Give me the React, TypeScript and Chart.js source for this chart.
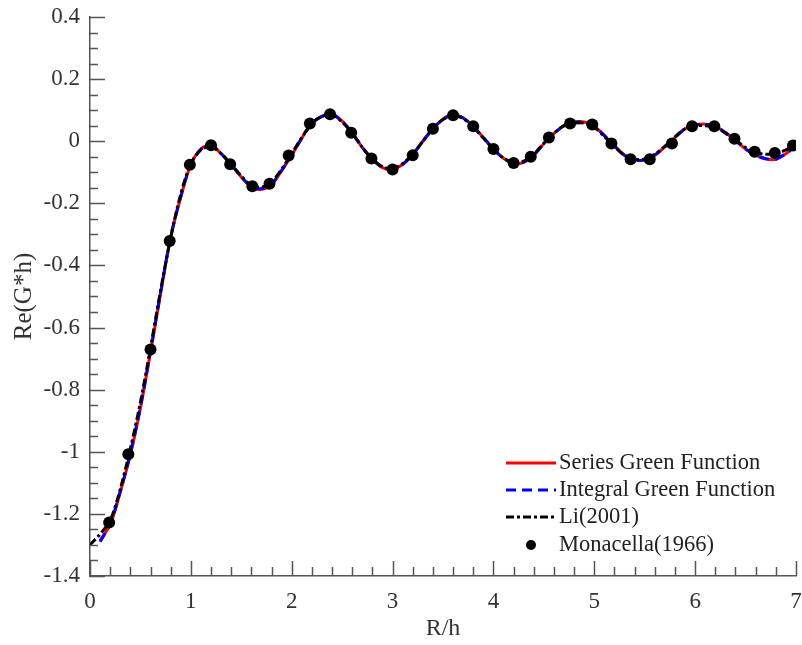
import React, { useEffect, useRef } from "react";
import { Chart, registerables } from "chart.js";

Chart.register(...registerables);

// Series Green Function (red solid)
const seriesX = [0.1,0.2,0.3,0.4,0.5,0.6,0.7,0.8,0.9,1.0,1.1,1.2,1.3,1.4,1.5,1.6,1.7,1.8,1.9,2.0,2.1,2.2,2.3,2.4,2.5,2.6,2.7,2.8,2.9,3.0,3.1,3.2,3.3,3.4,3.5,3.6,3.7,3.8,3.9,4.0,4.1,4.2,4.3,4.4,4.5,4.6,4.7,4.8,4.9,5.0,5.1,5.2,5.3,5.4,5.5,5.6,5.7,5.8,5.9,6.0,6.1,6.2,6.3,6.4,6.5,6.6,6.7,6.8,6.9,7.0];
const seriesY = [-1.285,-1.235,-1.13,-1.01,-0.86,-0.68,-0.49,-0.31,-0.18,-0.075,-0.025,-0.012,-0.04,-0.075,-0.115,-0.148,-0.155,-0.14,-0.095,-0.045,0.01,0.058,0.08,0.087,0.065,0.027,-0.02,-0.058,-0.085,-0.09,-0.075,-0.043,0.0,0.04,0.072,0.085,0.075,0.048,0.012,-0.025,-0.055,-0.072,-0.068,-0.045,-0.008,0.025,0.05,0.062,0.062,0.048,0.018,-0.015,-0.045,-0.06,-0.06,-0.045,-0.018,0.012,0.04,0.052,0.055,0.048,0.028,0.002,-0.025,-0.045,-0.057,-0.058,-0.04,-0.015];

// Integral Green Function (blue dashed)
const integralX = [0.1,0.2,0.3,0.4,0.5,0.6,0.7,0.8,0.9,1.0,1.1,1.2,1.3,1.4,1.5,1.6,1.7,1.8,1.9,2.0,2.1,2.2,2.3,2.4,2.5,2.6,2.7,2.8,2.9,3.0,3.1,3.2,3.3,3.4,3.5,3.6,3.7,3.8,3.9,4.0,4.1,4.2,4.3,4.4,4.5,4.6,4.7,4.8,4.9,5.0,5.1,5.2,5.3,5.4,5.5,5.6,5.7,5.8,5.9,6.0,6.1,6.2,6.3,6.4,6.5,6.6,6.7,6.8,6.9,7.0];
const integralY = [-1.29,-1.232,-1.128,-1.005,-0.855,-0.675,-0.487,-0.308,-0.178,-0.074,-0.026,-0.014,-0.04,-0.076,-0.114,-0.146,-0.153,-0.138,-0.094,-0.044,0.01,0.057,0.08,0.086,0.064,0.026,-0.02,-0.058,-0.084,-0.09,-0.074,-0.043,0.0,0.04,0.071,0.084,0.075,0.047,0.012,-0.025,-0.055,-0.071,-0.067,-0.044,-0.008,0.025,0.05,0.061,0.062,0.047,0.018,-0.015,-0.045,-0.06,-0.06,-0.044,-0.018,0.012,0.04,0.052,0.055,0.048,0.028,0.002,-0.025,-0.045,-0.056,-0.058,-0.04,-0.015];

// Li(2001) (black dash-dot)
const liX = [0,0.1,0.2,0.3,0.4,0.5,0.6,0.7,0.8,0.9,1.0,1.1,1.2,1.3,1.4,1.5,1.6,1.7,1.8,1.9,2.0,2.1,2.2,2.3,2.4,2.5,2.6,2.7,2.8,2.9,3.0,3.1,3.2,3.3,3.4,3.5,3.6,3.7,3.8,3.9,4.0,4.1,4.2,4.3,4.4,4.5,4.6,4.7,4.8,4.9,5.0,5.1,5.2,5.3,5.4,5.5,5.6,5.7,5.8,5.9,6.0,6.1,6.2,6.3,6.4,6.5,6.6,6.7,6.8,6.9,7.0];
const liY = [-1.3,-1.265,-1.222,-1.12,-0.99,-0.84,-0.665,-0.48,-0.31,-0.17,-0.072,-0.028,-0.018,-0.04,-0.075,-0.112,-0.142,-0.148,-0.132,-0.09,-0.04,0.012,0.058,0.08,0.085,0.062,0.025,-0.02,-0.057,-0.082,-0.088,-0.072,-0.042,0.0,0.04,0.07,0.083,0.073,0.046,0.01,-0.026,-0.054,-0.068,-0.064,-0.042,-0.006,0.026,0.05,0.058,0.058,0.045,0.015,-0.017,-0.046,-0.058,-0.057,-0.042,-0.016,0.014,0.04,0.05,0.05,0.045,0.026,0.004,-0.02,-0.036,-0.042,-0.04,-0.028,-0.012];

// Monacella(1966) (black dots)
const monX = [0.19,0.38,0.6,0.79,0.99,1.2,1.39,1.61,1.78,1.97,2.18,2.38,2.59,2.79,3.0,3.2,3.4,3.6,3.8,4.0,4.2,4.37,4.55,4.76,4.98,5.17,5.36,5.55,5.77,5.97,6.19,6.39,6.59,6.79,6.97];
const monY = [-1.228,-1.008,-0.671,-0.321,-0.076,-0.013,-0.074,-0.145,-0.137,-0.046,0.057,0.087,0.027,-0.056,-0.091,-0.045,0.04,0.084,0.048,-0.025,-0.07,-0.05,0.012,0.057,0.054,-0.007,-0.058,-0.058,-0.007,0.048,0.048,0.008,-0.034,-0.038,-0.014];

const legendLabels = ["Series Green Function", "Integral Green Function", "Li(2001)", "Monacella(1966)"];

const xMin = 0, xMax = 7, xMajor = 1, xMinor = 0.2;
const yMin = -1.4, yMax = 0.4, yMajor = 0.2, yMinor = 0.05;

const zip = (xs: number[], ys: number[]) => xs.map((x, i) => ({ x, y: ys[i] }));

const FONT = "'Liberation Serif', 'Times New Roman', serif";
const TEXT = "#333";
const AXIS = "#555";

const tickPlugin = {
  id: "innerTicks",
  afterDatasetsDraw(chart: any) {
    const { ctx, chartArea, scales } = chart;
    const xs = scales.x, ys = scales.y;
    ctx.save();
    ctx.strokeStyle = AXIS;
    ctx.lineWidth = 1.5;
    const nx = Math.round((xMax - xMin) / xMinor);
    for (let i = 0; i <= nx; i++) {
      const v = xMin + i * xMinor;
      const major = Math.abs(v / xMajor - Math.round(v / xMajor)) < 1e-6;
      const px = Math.round(xs.getPixelForValue(v)) + 0.5;
      ctx.beginPath();
      ctx.moveTo(px, chartArea.bottom);
      ctx.lineTo(px, chartArea.bottom - (major ? 15 : 9));
      ctx.stroke();
    }
    const ny = Math.round((yMax - yMin) / yMinor);
    for (let i = 0; i <= ny; i++) {
      const v = yMin + i * yMinor;
      const major = Math.abs(v / yMajor - Math.round(v / yMajor)) < 1e-6;
      const py = Math.round(ys.getPixelForValue(v)) + 0.5;
      ctx.beginPath();
      ctx.moveTo(chartArea.left, py);
      ctx.lineTo(chartArea.left + (major ? 15 : 8), py);
      ctx.stroke();
    }
    ctx.restore();
  },
};

const legendPlugin = {
  id: "insideLegend",
  afterDraw(chart: any) {
    const { ctx } = chart;
    ctx.save();
    const x0 = 506, x1 = 556, tx = 559;
    const rows = [463, 490, 517, 545];
    ctx.lineWidth = 3;
    ctx.strokeStyle = "#ff0000";
    ctx.setLineDash([]);
    ctx.beginPath(); ctx.moveTo(x0, rows[0]); ctx.lineTo(x1, rows[0]); ctx.stroke();
    ctx.strokeStyle = "#0000ff";
    ctx.setLineDash([10, 6]);
    ctx.beginPath(); ctx.moveTo(x0, rows[1]); ctx.lineTo(x1, rows[1]); ctx.stroke();
    ctx.strokeStyle = "#000";
    ctx.setLineDash([8, 3, 3, 3]);
    ctx.beginPath(); ctx.moveTo(x0, rows[2]); ctx.lineTo(x1, rows[2]); ctx.stroke();
    ctx.setLineDash([]);
    ctx.fillStyle = "#000";
    ctx.beginPath(); ctx.arc(531, rows[3], 5, 0, Math.PI * 2); ctx.fill();
    ctx.fillStyle = "#222";
    ctx.font = `22.5px ${FONT}`;
    ctx.textBaseline = "middle";
    ctx.textAlign = "left";
    legendLabels.forEach((t, i) => ctx.fillText(t, tx, rows[i]));
    ctx.restore();
  },
};

export default function App() {
  const ref = useRef<HTMLCanvasElement>(null);
  useEffect(() => {
    if (!ref.current) return;
    const chart = new Chart(ref.current, {
      type: "scatter",
      data: {
        datasets: [
          {
            label: legendLabels[3],
            data: zip(monX, monY),
            showLine: false,
            pointRadius: 6,
            pointBackgroundColor: "#000",
            pointBorderColor: "#000",
            pointBorderWidth: 0,
            order: 0,
          },
          {
            label: legendLabels[2],
            data: zip(liX, liY),
            showLine: true,
            borderColor: "#000",
            borderWidth: 3,
            borderDash: [8, 3, 3, 3],
            pointRadius: 0,
            tension: 0.3,
            order: 1,
          },
          {
            label: legendLabels[1],
            data: zip(integralX, integralY),
            showLine: true,
            borderColor: "#0000ff",
            borderWidth: 3,
            borderDash: [10, 6],
            pointRadius: 0,
            tension: 0.3,
            order: 2,
          },
          {
            label: legendLabels[0],
            data: zip(seriesX, seriesY),
            showLine: true,
            borderColor: "#ff0000",
            borderWidth: 3,
            pointRadius: 0,
            tension: 0.3,
            order: 3,
          },
        ],
      },
      options: {
        animation: false,
        responsive: false,
        layout: { padding: { top: 17, right: 5, left: 0, bottom: 0 } },
        plugins: { legend: { display: false }, tooltip: { enabled: false } },
        scales: {
          x: {
            type: "linear",
            min: xMin,
            max: xMax,
            afterFit: (s: any) => {
              s.height = 69;
              s.paddingLeft = 0;
              s.paddingRight = 0;
            },
            grid: { display: false, drawTicks: false },
            border: { display: true, color: AXIS, width: 1.5 },
            ticks: {
              stepSize: xMajor,
              padding: 12,
              color: TEXT,
              font: { family: FONT, size: 23 },
              callback: (v: any) => String(Number(Number(v).toFixed(1))),
            },
            title: {
              display: true,
              text: "R/h",
              color: TEXT,
              font: { family: FONT, size: 24 },
              padding: { top: 0, bottom: 2 },
            },
          },
          y: {
            type: "linear",
            min: yMin,
            max: yMax,
            afterFit: (s: any) => {
              s.width = 90;
              s.paddingTop = 0;
              s.paddingBottom = 0;
            },
            grid: { display: false, drawTicks: false },
            border: { display: true, color: AXIS, width: 1.5 },
            ticks: {
              stepSize: yMajor,
              padding: 10,
              color: TEXT,
              font: { family: FONT, size: 23 },
              callback: (v: any) => {
                const n = Number(Number(v).toFixed(1));
                return String(n === 0 ? 0 : n);
              },
            },
            title: {
              display: true,
              text: "Re(G*h)",
              color: TEXT,
              font: { family: FONT, size: 25 },
              padding: { top: 9, bottom: 0 },
            },
          },
        },
      },
      plugins: [tickPlugin, legendPlugin],
    } as any);
    return () => chart.destroy();
  }, []);
  return (
    <div style={{ position: "absolute", left: 0, top: 0, width: 802, height: 645, background: "#fff" }}>
      <canvas ref={ref} width={802} height={645} />
    </div>
  );
}
